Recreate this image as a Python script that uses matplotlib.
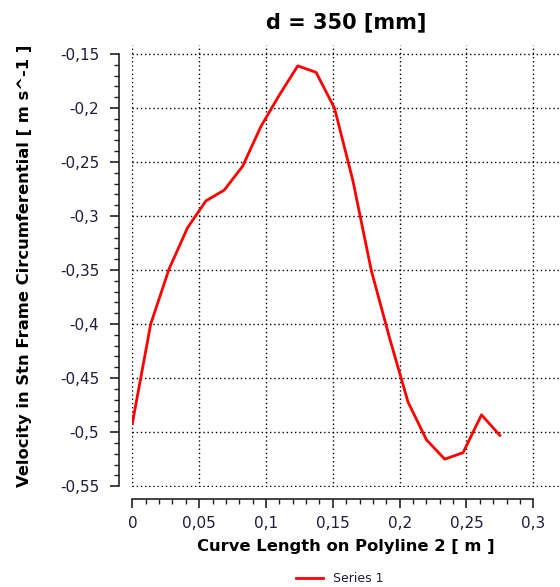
import matplotlib
matplotlib.use("Agg")
import matplotlib.pyplot as plt
import numpy as np
from matplotlib.ticker import FixedLocator, FuncFormatter

# curve length [m] and circumferential velocity [m/s]
curve_len = [0.0, 0.01375, 0.0275, 0.04125, 0.055, 0.06875, 0.0825, 0.09625,
             0.11, 0.12375, 0.1375, 0.15125, 0.165, 0.17875, 0.1925, 0.20625,
             0.22, 0.23375, 0.2475, 0.26125, 0.275]
velocity = [-0.492, -0.400, -0.349, -0.311, -0.286, -0.276, -0.254, -0.217,
            -0.188, -0.161, -0.167, -0.200, -0.267, -0.350, -0.413, -0.472,
            -0.507, -0.525, -0.519, -0.484, -0.503]

title = "d = 350 [mm]"
xlabel = "Curve Length on Polyline 2 [ m ]"
ylabel = "Velocity in Stn Frame Circumferential [ m s^-1 ]"
series_name = "Series 1"

tick_col = "#1c1c3c"

fig = plt.figure(figsize=(5.6, 5.87), dpi=100)
ax = fig.add_axes([0.2363, 0.1709, 0.7637, 0.7524])

ax.plot(curve_len, velocity, color="red", lw=2, label=series_name)

ax.set_xlim(0, 0.32)
ax.set_ylim(-0.5505, -0.1417)

# ticks only inside the drawn axis lines
ax.xaxis.set_major_locator(FixedLocator(np.round(np.arange(0, 0.301, 0.05), 3)))
ax.xaxis.set_minor_locator(FixedLocator(np.round(np.arange(0, 0.301, 0.01), 3)))
ax.yaxis.set_major_locator(FixedLocator(np.round(np.arange(-0.55, -0.149, 0.05), 3)))
ax.yaxis.set_minor_locator(FixedLocator(np.round(np.arange(-0.55, -0.149, 0.01), 3)))

comma = FuncFormatter(lambda v, p: ("%g" % round(v, 4)).replace(".", ","))
ax.xaxis.set_major_formatter(comma)
ax.yaxis.set_major_formatter(comma)

ax.grid(True, which="major", color="black", linestyle=(0, (1, 2)), lw=1.0)

for s in ("top", "right"):
    ax.spines[s].set_visible(False)
ax.spines["left"].set_position(("outward", 9.4))
ax.spines["bottom"].set_position(("outward", 8.6))
ax.spines["left"].set_bounds(-0.55, -0.15)
ax.spines["bottom"].set_bounds(0, 0.3)
for s in ("left", "bottom"):
    ax.spines[s].set_linewidth(1.2)
    ax.spines[s].set_color("#222222")

ax.tick_params(which="major", length=6.5, width=1.2, color="#222222",
               labelsize=11, labelcolor=tick_col)
ax.tick_params(axis="x", which="major", pad=6)
ax.tick_params(axis="y", which="major", pad=8)
ax.tick_params(which="minor", length=3.3, width=1.0, color="#222222")

ax.set_title(title, fontsize=15, fontweight="bold", pad=12)
ax.set_xlabel(xlabel, fontsize=11.8, fontweight="bold", labelpad=6)
ax.set_ylabel(ylabel, fontsize=11.8, fontweight="bold", labelpad=20)

leg = fig.legend(loc="lower center", bbox_to_anchor=(0.607, -0.016),
                 frameon=False, fontsize=9, handlelength=2.2)
for t in leg.get_texts():
    t.set_color(tick_col)

fig.savefig("out.png", dpi=100)
